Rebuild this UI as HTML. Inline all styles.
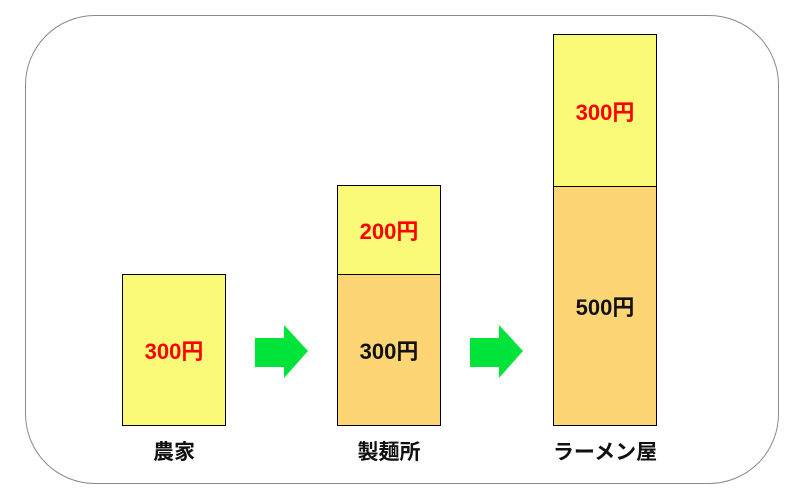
<!DOCTYPE html>
<html><head><meta charset="utf-8"><style>
html,body{margin:0;padding:0;background:#fff;}
body{width:801px;height:499px;position:relative;overflow:hidden;font-family:"Liberation Sans","Noto Sans CJK JP",sans-serif;}
.frame{position:absolute;left:25px;top:15px;width:754px;height:469px;border:1px solid #8a8a8a;border-radius:70px;box-sizing:border-box;}
.b{position:absolute;border:1.5px solid #000;box-sizing:border-box;display:flex;align-items:center;justify-content:center;font-weight:bold;font-size:22px;}
.y{background:#FAFA78;color:#f00;}
.o{background:#FDD575;color:#111;}
.lab{position:absolute;width:160px;text-align:center;font-weight:bold;font-size:21px;color:#111;top:436px;}
</style></head><body>
<div class="frame"></div>
<div class="b y" style="left:122px;top:274px;width:104px;height:152px;">300円</div>
<div class="b y" style="left:337px;top:185px;width:104px;height:90px;">200円</div>
<div class="b o" style="left:337px;top:274px;width:104px;height:152px;">300円</div>
<div class="b y" style="left:553px;top:34px;width:104px;height:153px;">300円</div>
<div class="b o" style="left:553px;top:186px;width:104px;height:240px;">500円</div>
<svg style="position:absolute;left:0;top:0" width="801" height="499">
<polygon points="255,338 284,338 284,325 308,351 284,378 284,367 255,367" fill="#00E33A"/>
<polygon points="470,338 499,338 499,325 523,351 499,378 499,367 470,367" fill="#00E33A"/>
</svg>
<div class="lab" style="left:94px;">農家</div>
<div class="lab" style="left:309px;">製麺所</div>
<div class="lab" style="left:525px;">ラーメン屋</div>
</body></html>
